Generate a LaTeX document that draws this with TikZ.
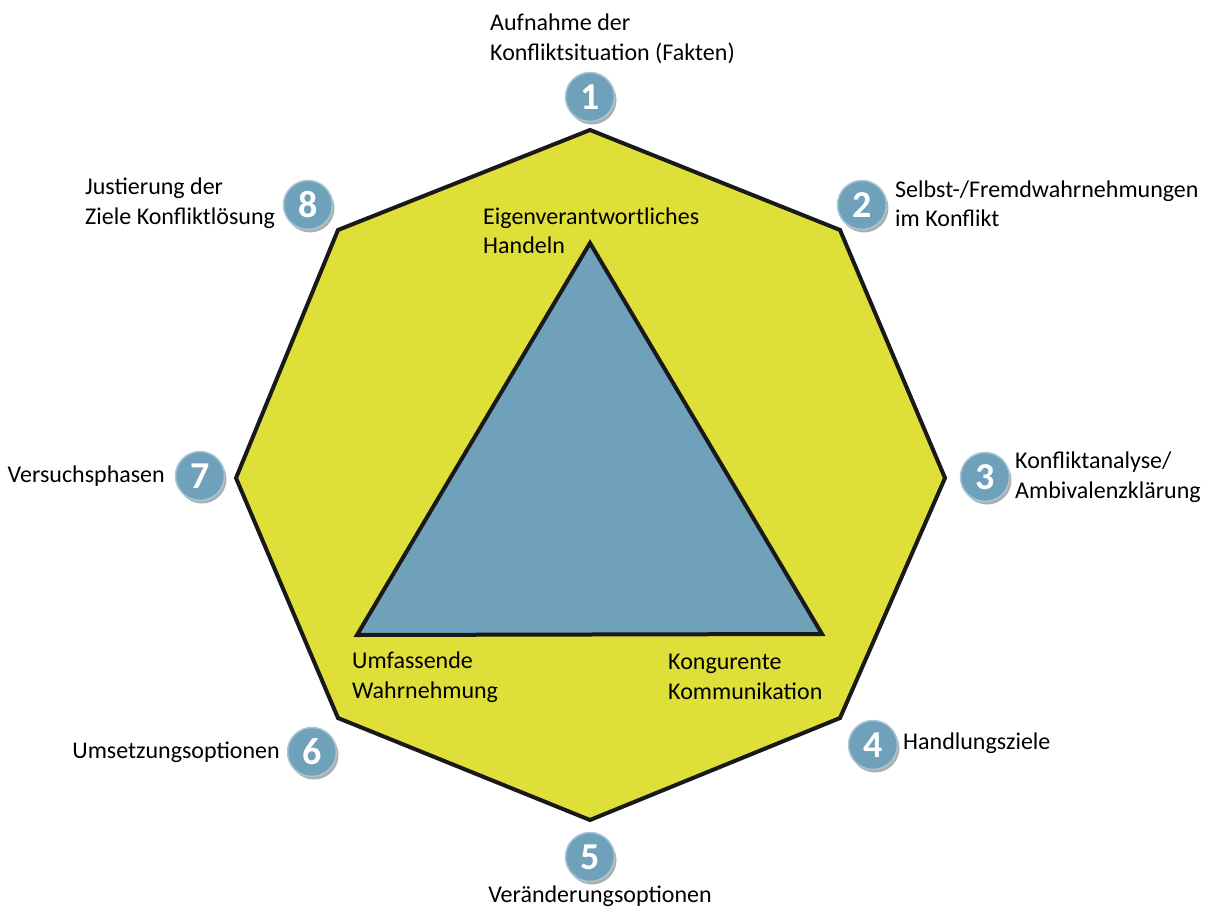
\documentclass[tikz,border=0pt]{standalone}
\usepackage{fontspec}
\setmainfont{Carlito}
\usetikzlibrary{shadows}
\definecolor{octfill}{HTML}{DFDF3A}
\definecolor{tribl}{HTML}{6FA1BA}
\definecolor{ring}{HTML}{A9C6D6}
\begin{document}
\begin{tikzpicture}[x=1pt,y=-1pt,
  txt/.style={inner sep=0pt,align=left,font=\fontsize{24}{29.5}\selectfont},
  num/.style={circle,fill=tribl,draw=ring,line width=1.5pt,minimum size=49pt,inner sep=0pt,
    text=white,font=\fontsize{38}{38}\selectfont\bfseries,
    drop shadow={shadow xshift=2pt,shadow yshift=-3pt,opacity=0.45,fill=black!70}},
  outline/.style={line width=4pt,line join=miter,draw=black!90}]
\useasboundingbox (0,0) rectangle (1217,909);
% octagon corners
\coordinate (o1) at (590,130);
\coordinate (o2) at (840,230);
\coordinate (o3) at (945,478);
\coordinate (o4) at (840,718);
\coordinate (o5) at (590,820);
\coordinate (o6) at (338,718);
\coordinate (o7) at (236,478);
\coordinate (o8) at (338,230);
\draw[outline,fill=octfill] (o1)--(o2)--(o3)--(o4)--(o5)--(o6)--(o7)--(o8)--cycle;
% inner triangle
\coordinate (t1) at (590,243);
\coordinate (t2) at (822,634);
\coordinate (t3) at (357,635);
\draw[outline,fill=tribl] (t1)--(t2)--(t3)--cycle;
% corner labels of the triangle
\node[txt,anchor=west] (eigen) at (483,231) {Eigenverantwortliches\\Handeln};
\node[txt,anchor=west] (umf) at (352,677) {Umfassende\\Wahrnehmung};
\node[txt,anchor=west] (kong) at (668,677) {Kongurente\\Kommunikation};
% numbered steps
\node[num] (n1) at (590,97) {1};
\node[num] (n2) at (862,205) {2};
\node[num] (n3) at (985,477) {3};
\node[num] (n4) at (873,745) {4};
\node[num] (n5) at (590,857) {5};
\node[num] (n6) at (312,752) {6};
\node[num] (n7) at (200,476) {7};
\node[num] (n8) at (308,205) {8};
% step texts
\node[txt,anchor=west] (l1) at (490,39) {Aufnahme der\\Konfliktsituation (Fakten)};
\node[txt,anchor=west] (l2) at (895,204) {Selbst-/Fremdwahrnehmungen\\im Konflikt};
\node[txt,anchor=west] (l3) at (1015,477) {Konfliktanalyse/\\Ambivalenzklärung};
\node[txt,anchor=west] (l4) at (903,743) {Handlungsziele};
\node[txt,anchor=center] (l5) at (600,896) {Veränderungsoptionen};
\node[txt,anchor=east] (l6) at (280,752) {Umsetzungsoptionen};
\node[txt,anchor=east] (l7) at (165,476) {Versuchsphasen};
\node[txt,anchor=west] (l8) at (85,203) {Justierung der\\Ziele Konfliktlösung};
\end{tikzpicture}
\end{document}
